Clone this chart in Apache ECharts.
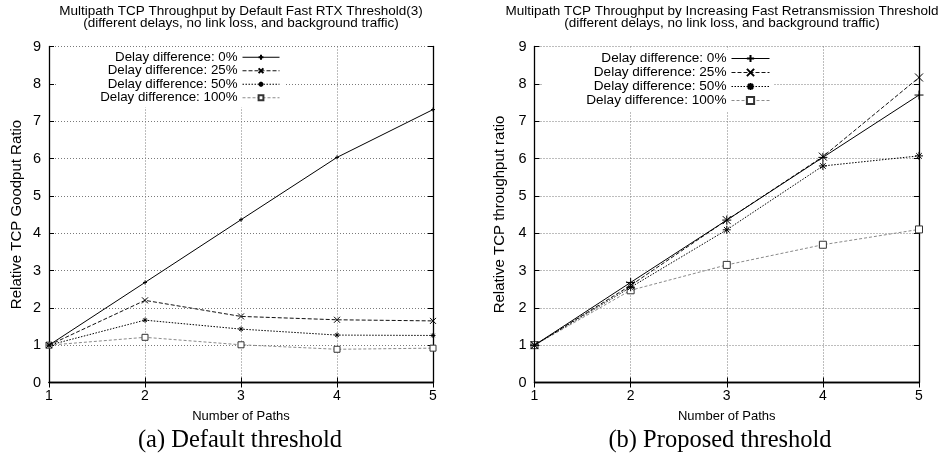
<!DOCTYPE html>
<html><head><meta charset="utf-8">
<script src="https://cdn.jsdelivr.net/npm/echarts@6/dist/echarts.min.js"></script>
<style>html,body{margin:0;padding:0;background:#fff}#c{width:950px;height:466px}</style>
</head><body><div id="c"></div>
<script>
// ---- data ----
const paths = [1, 2, 3, 4, 5];
const legendLabels = ['Delay difference: 0%', 'Delay difference: 25%', 'Delay difference: 50%', 'Delay difference: 100%'];
const defaultD0   = [1, 2.68, 4.36, 6.03, 7.31];
const defaultD25  = [1, 2.20, 1.77, 1.68, 1.65];
const defaultD50  = [1, 1.67, 1.43, 1.27, 1.26];
const defaultD100 = [1, 1.21, 1.01, 0.89, 0.92];
const proposedD0   = [1, 2.68, 4.35, 6.03, 7.70];
const proposedD25  = [1, 2.60, 4.35, 6.05, 8.17];
const proposedD50  = [1, 2.55, 4.09, 5.80, 6.07];
const proposedD100 = [1, 2.47, 3.15, 3.69, 4.10];
const titleLeft = 'Multipath TCP Throughput by Default Fast RTX Threshold(3)\n(different delays, no link loss, and background traffic)';
const titleRight = 'Multipath TCP Throughput by Increasing Fast Retransmission Threshold\n(different delays, no link loss, and background traffic)';
const xName = 'Number of Paths';
const yNameLeft = 'Relative TCP Goodput Ratio';
const yNameRight = 'Relative TCP throughput ratio';
const captionLeft = '(a) Default threshold';
const captionRight = '(b) Proposed threshold';

// ---- styles ----
const SANS = '"Liberation Sans", Arial, Helvetica, sans-serif';
const SERIF = '"Liberation Serif", "DejaVu Serif", serif';
const SYM = {
  plus: 'path://M0,4L8,4M4,0L4,8',
  cross: 'path://M0,0L8,8M8,0L0,8',
  star: 'path://M0,4L8,4M4,0L4,8M1.2,1.2L6.8,6.8M6.8,1.2L1.2,6.8',
  square: 'rect'
};
const styles = [
  {sym: SYM.plus, line: {color: '#000', width: 1, type: 'solid'}, fill: '#000', border: '#000'},
  {sym: SYM.cross, line: {color: '#111', width: 1, type: [4, 2]}, fill: '#000', border: '#000'},
  {sym: SYM.star, line: {color: '#000', width: 1, type: [1.5, 1.5]}, fill: '#000', border: '#000'},
  {sym: SYM.square, line: {color: '#8a8a8a', width: 1, type: [3, 2]}, fill: '#fff', border: '#333'}
];
const leftSizes = [4, 6, 5, 6];
const rightSizes = [9, 8, 8, 7];

function mk(name, arr, i, axisIdx, size) {
  const s = styles[i];
  return {
    type: 'line', name: name,
    xAxisIndex: axisIdx, yAxisIndex: axisIdx,
    data: paths.map((p, k) => [p, arr[k]]),
    symbol: s.sym, symbolSize: size, showSymbol: true,
    lineStyle: s.line,
    itemStyle: {color: s.fill, borderColor: s.border, borderWidth: 1},
    emphasis: {disabled: true},
    z: 2 + (3 - i) * 0.01
  };
}

const leftNames = ['L0', 'L25', 'L50', 'L100'];
const rightNames = ['R0', 'R25', 'R50', 'R100'];
const leftData = [defaultD0, defaultD25, defaultD50, defaultD100];
const rightData = [proposedD0, proposedD25, proposedD50, proposedD100];

const series = [];
leftNames.forEach((n, i) => series.push(mk(n, leftData[i], i, 0, leftSizes[i])));
rightNames.forEach((n, i) => series.push(mk(n, rightData[i], i, 2, rightSizes[i])));

const gridTop = 46.5, gridH = 336;
const grids = [
  {left: 49, top: gridTop, width: 384, height: gridH},
  {left: 534.5, top: gridTop, width: 384.5, height: gridH}
];

const axisLine = {show: true, lineStyle: {color: '#000', width: 1.3}};
const split = {show: true, lineStyle: {color: '#7a7a7a', width: 1, type: [1, 2]}};

function xPrimary(g) {
  return {
    type: 'value', gridIndex: g, min: 1, max: 5, interval: 1, position: 'bottom',
    axisLine: axisLine,
    axisTick: {show: true, inside: true, length: 5, lineStyle: {color: '#000'}},
    axisLabel: {color: '#000', fontSize: 14, fontFamily: SANS, margin: 7},
    splitLine: split,
    name: xName, nameLocation: 'middle', nameGap: 27,
    nameTextStyle: {color: '#000', fontSize: 13, fontFamily: SANS}
  };
}
function xMirror(g) {
  return {
    type: 'value', gridIndex: g, min: 1, max: 5, interval: 1, position: 'top',
    axisLine: axisLine,
    axisTick: {show: true, inside: true, length: 5, lineStyle: {color: '#000'}},
    axisLabel: {show: false}, splitLine: {show: false}
  };
}
function yPrimary(g, name, gap) {
  return {
    type: 'value', gridIndex: g, min: 0, max: 9, interval: 1, position: 'left',
    axisLine: axisLine,
    axisTick: {show: true, inside: true, length: 5, lineStyle: {color: '#000'}},
    axisLabel: {color: '#000', fontSize: 14.5, fontFamily: SANS, margin: 8},
    splitLine: split,
    name: name, nameLocation: 'middle', nameGap: gap, nameRotate: 90,
    nameTextStyle: {color: '#000', fontSize: 15, fontFamily: SANS}
  };
}
function yMirror(g) {
  return {
    type: 'value', gridIndex: g, min: 0, max: 9, interval: 1, position: 'right',
    axisLine: axisLine,
    axisTick: {show: true, inside: true, length: 5, lineStyle: {color: '#000'}},
    axisLabel: {show: false}, splitLine: {show: false}
  };
}

function legendFor(names, right, top, itemW, itemH, fs, lh, pad) {
  return {
    data: names, orient: 'vertical', align: 'right',
    right: right, top: top,
    itemWidth: itemW, itemHeight: itemH, itemGap: 0,
    selectedMode: false,
    backgroundColor: '#fff',
    padding: pad,
    lineStyle: {width: 1},
    formatter: function (n) { return legendLabels[names.indexOf(n)]; },
    textStyle: {color: '#000', fontSize: fs, fontFamily: SANS, lineHeight: lh}
  };
}

const option = {
  animation: false,
  backgroundColor: '#fff',
  grid: grids,
  xAxis: [xPrimary(0), xMirror(0), xPrimary(1), xMirror(1)],
  yAxis: [yPrimary(0, yNameLeft, 25), yMirror(0), yPrimary(1, yNameRight, 27), yMirror(1)],
  legend: [
    legendFor(leftNames, 666, 49.5, 37, 6, 13.3, 13.5, [1, 4, 3, 44]),
    legendFor(rightNames, 176, 49.5, 38, 9, 13.6, 13.8, [2, 4, 4, 44])
  ],
  series: series,
  graphic: [
    {type: 'text', x: 241, y: 5.5, z: 10, style: {text: titleLeft, align: 'center', verticalAlign: 'top', fontSize: 13.5, fontFamily: SANS, lineHeight: 12, fill: '#000'}},
    {type: 'text', x: 722, y: 5.5, z: 10, style: {text: titleRight, align: 'center', verticalAlign: 'top', fontSize: 13.5, fontFamily: SANS, lineHeight: 12, fill: '#000'}},
    {type: 'text', x: 240, y: 441, z: 10, style: {text: captionLeft, align: 'center', verticalAlign: 'middle', fontSize: 24.5, fontFamily: SERIF, fill: '#000'}},
    {type: 'text', x: 720, y: 441, z: 10, style: {text: captionRight, align: 'center', verticalAlign: 'middle', fontSize: 24.5, fontFamily: SERIF, fill: '#000'}}
  ]
};

const chart = echarts.init(document.getElementById('c'), null, {renderer: 'canvas'});
chart.setOption(option);
</script>
</body></html>
